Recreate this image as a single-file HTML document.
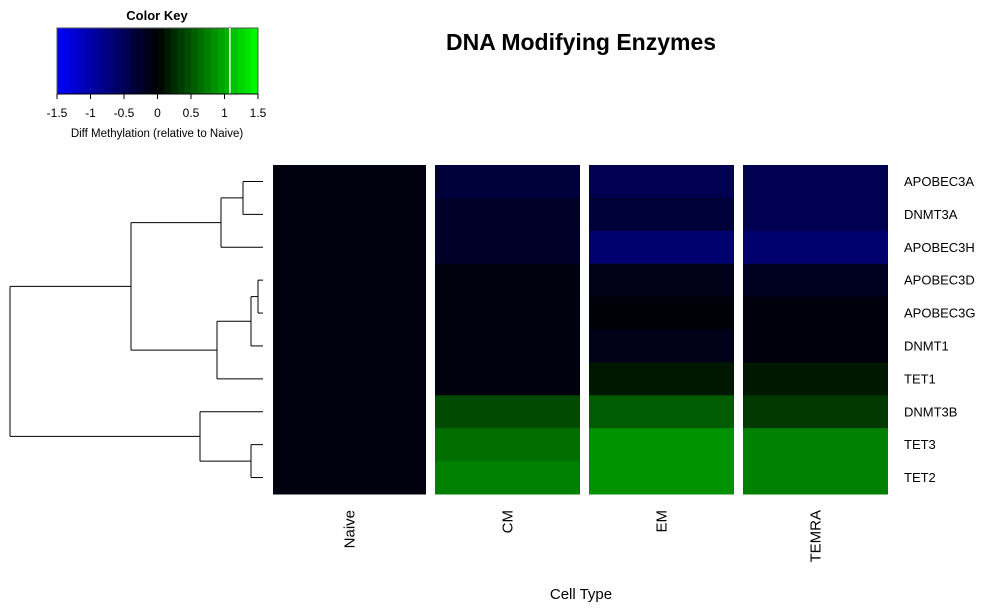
<!DOCTYPE html>
<html><head><meta charset="utf-8"><style>
body{margin:0;background:#fff;}
svg text{font-family:"Liberation Sans",Arial,sans-serif;}
</style></head><body>
<svg id="chart" width="1000" height="606" viewBox="0 0 1000 606" xmlns="http://www.w3.org/2000/svg">
<rect width="1000" height="606" fill="#fff"/>
<text x="581" y="50" font-size="23" font-weight="bold" text-anchor="middle">DNA Modifying Enzymes</text>
<text x="157" y="20" font-size="13" font-weight="bold" text-anchor="middle">Color Key</text>
<g id="key"></g>
<text x="157" y="137" font-size="11.5" text-anchor="middle">Diff Methylation (relative to Naive)</text>
<g id="dendro" stroke="#000" stroke-width="1" fill="none"></g>
<g id="cells"></g>
<g id="rowlabels"></g>
<g id="collabels"></g>
<text x="581" y="599" font-size="15" text-anchor="middle">Cell Type</text>
</svg>
<script>
const rows = ["APOBEC3A","DNMT3A","APOBEC3H","APOBEC3D","APOBEC3G","DNMT1","TET1","DNMT3B","TET3","TET2"];
const cols = ["Naive","CM","EM","TEMRA"];
const naive = [-0.08,-0.08,-0.08,-0.08,-0.08,-0.08,-0.08,-0.08,-0.08,-0.08];
const cm = [-0.34,-0.24,-0.24,-0.08,-0.08,-0.08,-0.08,0.44,0.65,0.75];
const em = [-0.47,-0.33,-0.65,-0.14,-0.05,-0.15,0.14,0.54,0.86,0.86];
const temra = [-0.47,-0.47,-0.65,-0.19,-0.07,-0.07,0.14,0.33,0.75,0.75];
const keyTicks = [-1.5,-1,-0.5,0,0.5,1,1.5];
const series = [naive, cm, em, temra];
const NS = "http://www.w3.org/2000/svg";
function mk(tag, attrs, parent){const e=document.createElementNS(NS,tag);for(const k in attrs)e.setAttribute(k,attrs[k]);parent.appendChild(e);return e;}
function color(v){const t=Math.max(-1,Math.min(1,v/1.5));const c=Math.round(Math.abs(t)*255);return t<0?`rgb(0,0,${c})`:`rgb(0,${c},0)`;}
const colX = [[273,426],[435,580],[589,734],[743,888]];
const hmTop=165, hmBottom=494, rh=(hmBottom-hmTop)/rows.length;
const yRow = i => hmTop + i*rh;
const cells = document.getElementById('cells');
series.forEach((s,j)=>{s.forEach((v,i)=>{
  const r=mk('rect',{x:colX[j][0],y:yRow(i),width:colX[j][1]-colX[j][0],height:rh+0.5,fill:color(v)},cells);
  
  
});});
const rl = document.getElementById('rowlabels');
rows.forEach((n,i)=>{
  const t=mk('text',{x:904,y:yRow(i)+rh/2+4.5,'font-size':13},rl);t.textContent=n;
  
  
});
const cl = document.getElementById('collabels');
cols.forEach((n,j)=>{
  const cx=(colX[j][0]+colX[j][1])/2+5;
  const t=mk('text',{x:cx,y:510,'font-size':15,'text-anchor':'end',transform:`rotate(-90 ${cx} 510)`},cl);t.textContent=n;
  
  
});
const key=document.getElementById('key');
const kx0=57,kx1=258,ky0=28,ky1=94;
const kx = v => kx0+(v+1.5)/3*(kx1-kx0);
const nb=30;
for(let b=0;b<nb;b++){const v0=-1.5+3*b/nb,v1=-1.5+3*(b+1)/nb;
  mk('rect',{x:kx(v0),y:ky0,width:kx(v1)-kx(v0)+0.5,height:ky1-ky0,fill:color((v0+v1)/2)},key);}
mk('rect',{x:kx0,y:ky0,width:kx1-kx0,height:ky1-ky0,fill:'none',stroke:'#555','stroke-width':1},key);
mk('line',{x1:kx(1.08),x2:kx(1.08),y1:ky0,y2:ky1,stroke:'#fff','stroke-width':1.5},key);
mk('line',{x1:kx0,x2:kx1,y1:ky1,y2:ky1,stroke:'#000'},key);
keyTicks.forEach(t=>{mk('line',{x1:kx(t),x2:kx(t),y1:ky1,y2:ky1+5,stroke:'#000'},key);
  const tx=mk('text',{x:kx(t),y:117,'font-size':12,'text-anchor':'middle'},key);tx.textContent=String(t);});
const d=document.getElementById('dendro');
const yc=i=>yRow(i)+rh/2;
function seg(x1,y1,x2,y2){mk('line',{x1,y1,x2,y2},d);}
function merge(x,ya,xa,yb,xb){seg(xa,ya,x,ya);seg(xb,yb,x,yb);seg(x,ya,x,yb);return (ya+yb)/2;}
const L=263;
const m1=merge(243,yc(0),L,yc(1),L);
const m2=merge(221,m1,243,yc(2),L);
const m3=merge(258,yc(3),L,yc(4),L);
const m4=merge(251,m3,258,yc(5),L);
const m5=merge(217,m4,251,yc(6),L);
const m6=merge(131,m2,221,m5,217);
const m7=merge(251,yc(8),L,yc(9),L);
const m8=merge(200,yc(7),L,m7,251);
merge(10,m6,131,m8,200);
</script>
</body></html>
